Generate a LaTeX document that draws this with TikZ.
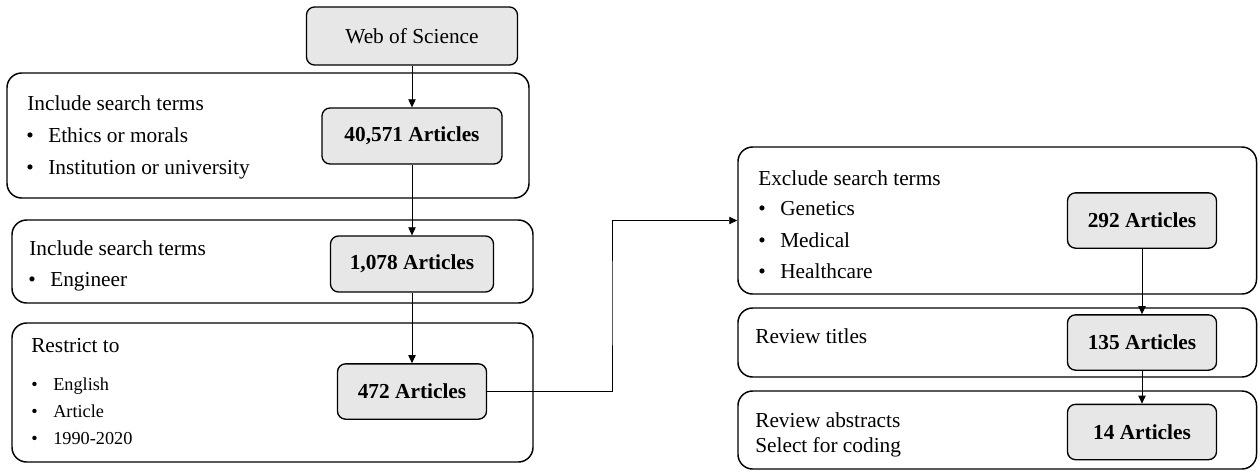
\documentclass[tikz,border=0pt]{standalone}
\usepackage{fontspec}
\setmainfont{Liberation Serif}
\usetikzlibrary{arrows.meta}
\usetikzlibrary{positioning}
\definecolor{boxgray}{RGB}{231,231,231}
\newcommand{\bitem}[1]{\makebox[16.5pt][l]{\textbullet}#1}

\begin{document}
\begin{tikzpicture}[x=0.75pt,y=-0.75pt,
	stagenode/.style={rectangle,rounded corners=11pt,draw,line width=1.1pt,inner sep=0pt},
	cntnode/.style={rectangle,rounded corners=6pt,draw,fill=boxgray,line width=1pt,inner sep=0pt,font=\fontsize{16}{19}\selectfont\bfseries,minimum width=111.75pt,minimum height=41.5pt},
	srcnode/.style={cntnode,font=\fontsize{16}{19}\selectfont},
	txtnode/.style={anchor=base west,inner sep=0pt,font=\fontsize{16}{19}\selectfont},
	smallnode/.style={txtnode,font=\fontsize{13.7}{16}\selectfont},
	flow/.style={-{Triangle[length=6pt,width=5.5pt]},line width=0.6pt}
]
\useasboundingbox (0,0) rectangle (1258,472);

% left column
\node (s1) [stagenode,minimum width=391.5pt,minimum height=93.75pt] at (268,135.5) {};
\node (s2) [stagenode,minimum width=390.75pt,minimum height=62.25pt] at (272.5,261.5) {};
\node (s3) [stagenode,minimum width=390.75pt,minimum height=104.25pt] at (272.5,392.5) {};
\node (src) [srcnode,minimum width=158.25pt,minimum height=43.5pt] at (412,36) {Web of Science};
\node (a1) [cntnode,minimum width=135pt,minimum height=42pt] at (412,136) {40,571 Articles};
\node (a2) [cntnode,minimum width=122.25pt,minimum height=42pt] at (412,264) {1,078 Articles};
\node (a3) [cntnode] at (412,391.5) {472 Articles};

\node (h1) [txtnode] at (27,110) {Include search terms};
\node (b11) [txtnode] at (26,142) {\bitem{Ethics or morals}};
\node (b12) [txtnode] at (26,174) {\bitem{Institution or university}};
\node (h2) [txtnode] at (29,255) {Include search terms};
\node (b21) [txtnode] at (28,286) {\bitem{Engineer}};
\node (h3) [txtnode] at (31,352) {Restrict to};
\node (b31) [smallnode] at (31,390) {\bitem{English}};
\node (b32) [smallnode] at (31,417) {\bitem{Article}};
\node (b33) [smallnode] at (31,444) {\bitem{1990-2020}};

% right column
\node (s4) [stagenode,minimum width=388.9pt,minimum height=110.25pt] at (997.25,220.5) {};
\node (s5) [stagenode,minimum width=388.9pt,minimum height=51.75pt] at (997.25,342.5) {};
\node (s6) [stagenode,minimum width=388.9pt,minimum height=58.5pt] at (997.25,430) {};
\node (a4) [cntnode] at (1142,220.5) {292 Articles};
\node (a5) [cntnode] at (1142,342.5) {135 Articles};
\node (a6) [cntnode] at (1142,432) {14 Articles};

\node (h4) [txtnode] at (758,185) {Exclude search terms};
\node (b41) [txtnode] at (758,215) {\bitem{Genetics}};
\node (b42) [txtnode] at (758,247) {\bitem{Medical}};
\node (b43) [txtnode] at (758,278) {\bitem{Healthcare}};
\node (h5) [txtnode] at (755,343) {Review titles};
\node (h6) [txtnode] at (755,427) {Review abstracts};
\node (h7) [txtnode] at (755,452) {Select for coding};

\coordinate (bend) at (612,300);
\draw[flow] (src) -- (a1);
\draw[flow] (a1) -- (a2);
\draw[flow] (a2) -- (a3);
\draw[flow] (a3.east) -| (bend) |- (s4.west);
\draw[flow] (a4) -- (a5);
\draw[flow] (a5) -- (a6);
\end{tikzpicture}
\end{document}
